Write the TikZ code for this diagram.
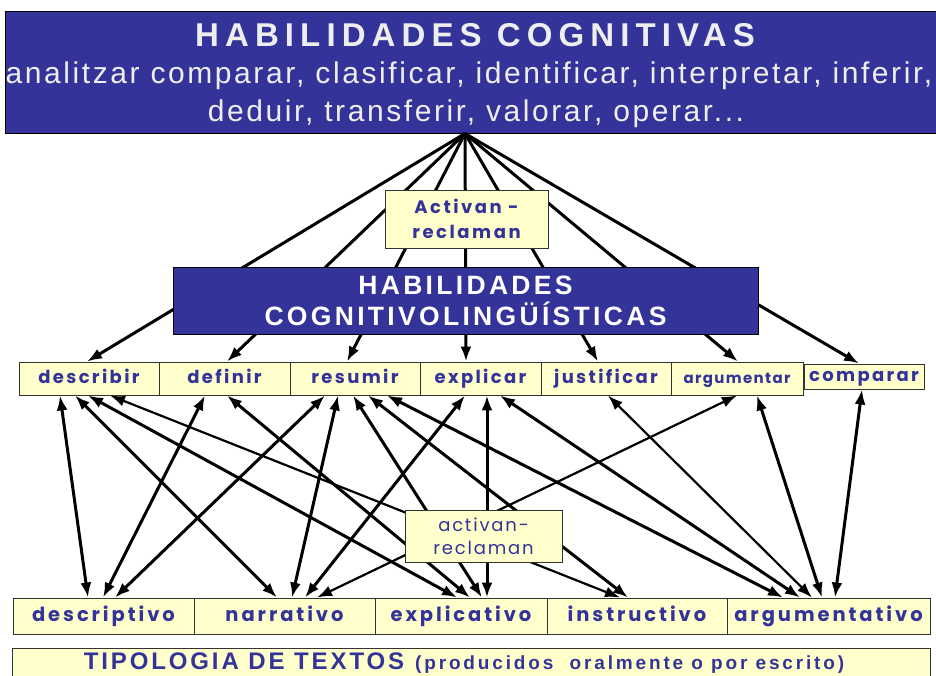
\documentclass[tikz,border=0pt]{standalone}
\usepackage{fontspec}
\setmainfont{Liberation Sans}
\newfontfamily\handfont{Poppins}
\usepackage{tikz}
\usetikzlibrary{arrows.meta}
\usepackage{xcolor}
\definecolor{navy}{HTML}{333399}
\definecolor{paleyellow}{HTML}{FFFFCC}
\definecolor{titlegray}{HTML}{EEEEEE}

\begin{document}
\begin{tikzpicture}[x=1pt, y=-1pt,
		darkbox/.style={draw=black, line width=1pt, fill=navy, inner sep=0pt},
		lightbox/.style={draw=black!80, line width=0.9pt, fill=paleyellow, inner sep=0pt, text=navy},
		skill/.style={lightbox, minimum height=33pt, text height=14pt, text depth=4pt,
			font=\handfont\bfseries\fontsize{18}{21}\selectfont\addfontfeature{LetterSpace=13}},
		texttype/.style={lightbox, minimum height=36pt, text height=15pt, text depth=4pt,
			font=\handfont\bfseries\fontsize{19.5}{23}\selectfont\addfontfeature{LetterSpace=15}},
		link/.style={-{Latex[length=15pt,width=11pt]}, line width=3pt},
		twoway/.style={{Latex[length=15pt,width=11pt]}-{Latex[length=15pt,width=11pt]}, line width=3pt},
		thin/.style={line width=2.2pt}]
		\useasboundingbox (0,0) rectangle (936,675);
		\clip (0,0) rectangle (936,675);
		% top box
		\node[darkbox, minimum width=936pt, minimum height=122pt] (top) at (473,72) {};
		\node[anchor=base, text=titlegray, font=\bfseries\fontsize{33}{36}\selectfont\addfontfeature{LetterSpace=18.5}] (toptitle) at (475,46) {HABILIDADES COGNITIVAS};
		\node[anchor=base, text=titlegray, font=\fontsize{30}{33}\selectfont\addfontfeature{LetterSpace=8.6}] (topline) at (469,83) {analitzar comparar, clasificar, identificar, interpretar, inferir,};
		\node[anchor=base, text=titlegray, font=\fontsize{30}{33}\selectfont\addfontfeature{LetterSpace=8.6}] (topline2) at (476,121) {deduir, transferir, valorar, operar...};
		% skills
		\node[skill, minimum width=140pt] (describir) at (89,378.5) {describir};
		\node[skill, minimum width=131pt] (definir) at (224.5,378.5) {definir};
		\node[skill, minimum width=130pt] (resumir) at (355,378.5) {resumir};
		\node[skill, minimum width=121pt] (explicar) at (480.5,378.5) {explicar};
		\node[skill, minimum width=130pt] (justificar) at (606,378.5) {justificar};
		\node[skill, minimum width=132pt, font=\handfont\bfseries\fontsize{15}{18}\selectfont\addfontfeature{LetterSpace=9}] (argumentar) at (737,378.5) {argumentar};
		\node[skill, minimum width=120pt, minimum height=25pt, text height=13pt, text depth=4pt] (comparar) at (864,376.5) {comparar};
		% text types
		\node[texttype, minimum width=181pt] (descriptivo) at (103.5,616) {descriptivo};
		\node[texttype, minimum width=181pt] (narrativo) at (284.5,616) {narrativo};
		\node[texttype, minimum width=172pt] (explicativo) at (461,616) {explicativo};
		\node[texttype, minimum width=180pt] (instructivo) at (637,616) {instructivo};
		\node[texttype, minimum width=203pt] (argumentativo) at (828.5,616) {argumentativo};
		\node[lightbox, minimum width=918pt, minimum height=32pt] (tipologia) at (471,664) {};
		\node[text=navy, inner sep=0pt, font=\bfseries] (tipologiatext) at (464,663)
			{{\fontsize{24}{27}\selectfont\addfontfeature{LetterSpace=12}TIPOLOGIA DE TEXTOS}\hspace{11pt}{\fontsize{19}{22}\selectfont\addfontfeature{LetterSpace=15}(producidos\ \ oralmente o por escrito)}};
		% fan from the top box
		\draw[link] ([xshift=-8pt]top.south) -- ([xshift=-2pt]describir.north);
		\draw[link] ([xshift=-8pt]top.south) -- ([xshift=2.5pt]definir.north);
		\draw[link] ([xshift=-8pt]top.south) -- ([xshift=-8pt]resumir.north);
		\draw[link] ([xshift=-8pt]top.south) -- ([xshift=-14.5pt]explicar.north);
		\draw[link] ([xshift=-8pt]top.south) -- ([xshift=-8pt]justificar.north);
		\draw[link] ([xshift=-8pt]top.south) -- ([xshift=1pt]argumentar.north);
		\draw[link] ([xshift=-8pt]top.south) -- ([xshift=-5pt]comparar.north);
		% skills <-> text types
		\draw[twoway] ([xshift=-29pt]describir.south) -- ([xshift=-15.5pt]descriptivo.north);
		\draw[twoway] ([xshift=-14pt]describir.south) -- ([xshift=-7.5pt]narrativo.north);
		\draw[twoway] ([xshift=-1pt]describir.south) -- ([xshift=-4pt]explicativo.north);
		\draw[twoway, thin] ([xshift=21pt]describir.south) -- ([xshift=-17pt]instructivo.north);
		\draw[twoway] ([xshift=-19.5pt]definir.south) -- ([xshift=-0.5pt]descriptivo.north);
		\draw[twoway] ([xshift=2.5pt]definir.south) -- ([xshift=9pt]explicativo.north);
		\draw[twoway] ([xshift=-30pt]resumir.south) -- ([xshift=11.5pt]descriptivo.north);
		\draw[twoway] ([xshift=-17pt]resumir.south) -- ([xshift=7.5pt]narrativo.north);
		\draw[twoway] ([xshift=-2pt]resumir.south) -- ([xshift=21pt]explicativo.north);
		\draw[twoway] ([xshift=13pt]resumir.south) -- ([xshift=-9pt]instructivo.north);
		\draw[twoway] ([xshift=32pt]resumir.south) -- ([xshift=-45.5pt]argumentativo.north);
		\draw[twoway] ([xshift=-15.5pt]explicar.south) -- ([xshift=20.5pt]narrativo.north);
		\draw[twoway] ([xshift=6.5pt]explicar.south) -- ([xshift=26pt]explicativo.north);
		\draw[twoway] ([xshift=19.5pt]explicar.south) -- ([xshift=-28.5pt]argumentativo.north);
		\draw[twoway, thin] ([xshift=2pt]justificar.south) -- ([xshift=-16.5pt]argumentativo.north);
		\draw[twoway, thin] ([xshift=0pt]argumentar.south) -- ([xshift=32.5pt]narrativo.north);
		\draw[twoway] ([xshift=20pt]argumentar.south) -- ([xshift=-6.5pt]argumentativo.north);
		\draw[twoway] ([xshift=-2pt]comparar.south) -- ([xshift=6.5pt]argumentativo.north);
		% boxes lying over the lines
		\node[lightbox, minimum width=163pt, minimum height=58pt, align=center,
			font=\handfont\bfseries\fontsize{18}{25}\selectfont\addfontfeature{LetterSpace=14}] (activan) at (466.5,219) {Activan -\\reclaman};
		\node[darkbox, minimum width=585pt, minimum height=67pt, align=center, text=white,
			font=\bfseries\fontsize{26.5}{31}\selectfont\addfontfeature{LetterSpace=12.5}] (cogling) at (465.5,300.5) {HABILIDADES\\COGNITIVOLINGÜÍSTICAS};
		\node[lightbox, minimum width=157pt, minimum height=52pt, align=center,
			font=\handfont\fontsize{18}{23}\selectfont\addfontfeature{LetterSpace=10}] (reclaman) at (483.5,536) {activan-\\reclaman};
	\end{tikzpicture}
\end{document}
